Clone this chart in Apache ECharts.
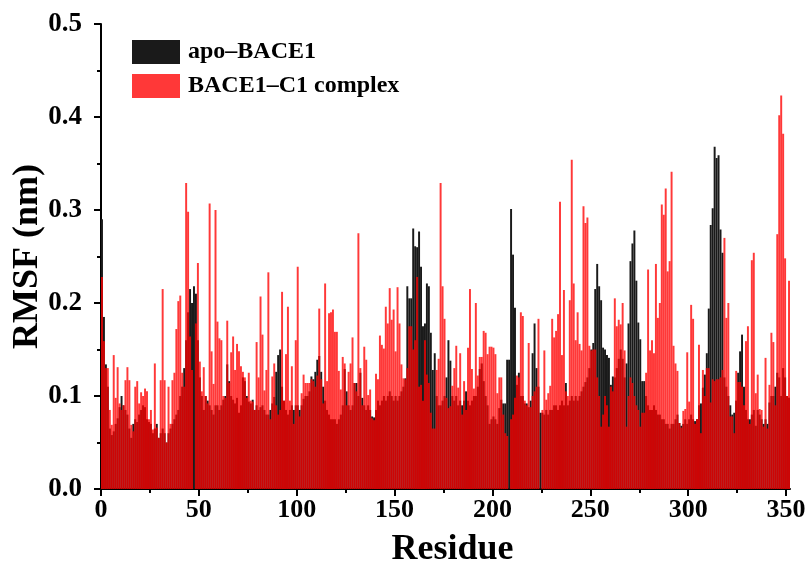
<!DOCTYPE html>
<html>
<head>
<meta charset="utf-8">
<script src="https://cdn.jsdelivr.net/npm/echarts@6/dist/echarts.min.js"></script>
<style>html,body{margin:0;padding:0;background:#fff}#c{width:808px;height:561px}</style>
</head>
<body>
<div id="c"></div>
<script>
// Residue numbers (0..351)
const residues = [];
for (let i = 0; i < 352; i++) residues.push(i);

// RMSF (nm) of apo-BACE1
const apo = [
0.290,0.185,0.134,0.110,0.065,0.058,0.062,0.070,0.076,0.088,
0.100,0.090,0.085,0.080,0.065,0.055,0.070,0.075,0.072,0.080,
0.085,0.090,0.088,0.075,0.072,0.070,0.060,0.065,0.070,0.055,
0.060,0.065,0.060,0.050,0.060,0.065,0.070,0.075,0.080,0.085,
0.100,0.110,0.130,0.160,0.190,0.215,0.200,0.218,0.210,0.160,
0.120,0.100,0.085,0.100,0.095,0.090,0.085,0.080,0.090,0.090,
0.085,0.090,0.096,0.100,0.134,0.116,0.100,0.096,0.092,0.098,
0.082,0.090,0.120,0.116,0.100,0.094,0.092,0.096,0.085,0.090,
0.085,0.088,0.090,0.085,0.080,0.080,0.085,0.092,0.099,0.126,
0.144,0.150,0.110,0.095,0.085,0.080,0.085,0.090,0.085,0.090,
0.090,0.085,0.090,0.097,0.100,0.100,0.105,0.121,0.118,0.126,
0.139,0.143,0.126,0.110,0.095,0.085,0.080,0.075,0.075,0.075,
0.070,0.075,0.080,0.090,0.129,0.105,0.090,0.085,0.090,0.114,
0.114,0.100,0.125,0.098,0.090,0.085,0.090,0.085,0.078,0.077,
0.085,0.095,0.090,0.095,0.100,0.095,0.100,0.105,0.100,0.095,
0.100,0.095,0.100,0.105,0.110,0.119,0.218,0.205,0.205,0.280,
0.261,0.260,0.277,0.239,0.175,0.178,0.221,0.218,0.168,0.128,
0.146,0.100,0.090,0.090,0.095,0.100,0.120,0.160,0.138,0.100,
0.095,0.100,0.090,0.095,0.090,0.095,0.105,0.095,0.090,0.095,
0.100,0.100,0.110,0.129,0.135,0.116,0.100,0.090,0.070,0.075,
0.078,0.075,0.070,0.087,0.096,0.092,0.092,0.139,0.139,0.301,
0.252,0.195,0.112,0.125,0.100,0.100,0.092,0.092,0.088,0.095,
0.146,0.178,0.130,0.110,0.082,0.082,0.080,0.085,0.080,0.085,
0.085,0.090,0.090,0.085,0.090,0.095,0.090,0.114,0.090,0.095,
0.100,0.095,0.100,0.095,0.100,0.105,0.110,0.115,0.120,0.130,
0.150,0.157,0.215,0.242,0.218,0.203,0.152,0.150,0.144,0.141,
0.112,0.121,0.120,0.130,0.140,0.150,0.140,0.120,0.135,0.178,
0.245,0.264,0.278,0.224,0.179,0.161,0.116,0.116,0.100,0.090,
0.085,0.085,0.090,0.085,0.080,0.080,0.075,0.075,0.070,0.070,
0.065,0.070,0.070,0.075,0.080,0.071,0.068,0.070,0.075,0.070,
0.075,0.080,0.075,0.073,0.075,0.090,0.092,0.109,0.123,0.146,
0.194,0.284,0.302,0.368,0.356,0.359,0.279,0.254,0.120,0.110,
0.100,0.090,0.080,0.082,0.095,0.125,0.148,0.166,0.110,0.085,
0.075,0.075,0.080,0.085,0.068,0.085,0.080,0.075,0.070,0.075,
0.070,0.093,0.100,0.100,0.110,0.125,0.120,0.100,0.130,0.120,
0.100,0.098
];

// RMSF (nm) of BACE1-C1 complex
const complex = [
0.228,0.159,0.130,0.130,0.085,0.069,0.144,0.098,0.131,0.092,
0.085,0.090,0.117,0.131,0.117,0.069,0.062,0.110,0.116,0.092,
0.104,0.100,0.108,0.105,0.075,0.085,0.064,0.135,0.066,0.055,
0.117,0.215,0.117,0.050,0.110,0.070,0.117,0.125,0.172,0.202,
0.208,0.125,0.110,0.329,0.298,0.164,0.128,0.000,0.178,0.243,
0.137,0.105,0.131,0.100,0.092,0.307,0.148,0.113,0.300,0.180,
0.162,0.160,0.100,0.098,0.181,0.114,0.147,0.164,0.128,0.156,
0.148,0.132,0.126,0.120,0.098,0.125,0.095,0.094,0.085,0.158,
0.120,0.207,0.166,0.106,0.128,0.233,0.075,0.121,0.135,0.090,
0.080,0.085,0.212,0.095,0.145,0.196,0.095,0.132,0.070,0.160,
0.239,0.078,0.103,0.123,0.114,0.114,0.114,0.118,0.116,0.110,
0.122,0.194,0.118,0.092,0.221,0.116,0.189,0.190,0.193,0.169,
0.169,0.127,0.107,0.142,0.135,0.090,0.126,0.135,0.163,0.114,
0.105,0.275,0.130,0.090,0.153,0.139,0.101,0.107,0.076,0.074,
0.124,0.118,0.165,0.155,0.151,0.196,0.178,0.216,0.182,0.193,
0.148,0.217,0.178,0.134,0.119,0.118,0.130,0.175,0.175,0.150,
0.160,0.228,0.110,0.112,0.095,0.160,0.123,0.114,0.082,0.065,
0.065,0.128,0.140,0.329,0.218,0.183,0.098,0.087,0.089,0.111,
0.130,0.154,0.109,0.146,0.080,0.116,0.085,0.152,0.215,0.129,
0.108,0.200,0.122,0.142,0.142,0.170,0.168,0.145,0.153,0.153,
0.152,0.145,0.103,0.120,0.120,0.080,0.060,0.057,0.000,0.075,
0.080,0.098,0.122,0.120,0.190,0.186,0.095,0.090,0.157,0.088,
0.100,0.105,0.110,0.183,0.000,0.085,0.149,0.096,0.103,0.111,
0.183,0.163,0.170,0.188,0.309,0.144,0.214,0.105,0.100,0.203,
0.354,0.221,0.160,0.190,0.156,0.149,0.304,0.286,0.292,0.154,
0.149,0.150,0.150,0.120,0.100,0.067,0.080,0.100,0.090,0.067,
0.110,0.105,0.205,0.175,0.182,0.177,0.200,0.149,0.067,0.100,
0.120,0.114,0.100,0.090,0.085,0.067,0.082,0.082,0.125,0.236,
0.149,0.160,0.146,0.242,0.184,0.200,0.306,0.295,0.323,0.234,
0.245,0.341,0.154,0.135,0.127,0.071,0.066,0.084,0.086,0.147,
0.094,0.198,0.183,0.070,0.075,0.155,0.060,0.128,0.100,0.130,
0.130,0.093,0.118,0.116,0.118,0.118,0.120,0.128,0.270,0.184,
0.200,0.078,0.078,0.060,0.127,0.115,0.115,0.110,0.090,0.159,
0.175,0.070,0.246,0.254,0.103,0.123,0.086,0.085,0.067,0.141,
0.065,0.112,0.168,0.158,0.090,0.274,0.402,0.423,0.382,0.248,
0.100,0.224
];

const seriesNames = ['apo\u2013BACE1', 'BACE1\u2013C1 complex'];
const xMajorTicks = [0, 50, 100, 150, 200, 250, 300, 350];
const xMinorTicks = [25, 75, 125, 175, 225, 275, 325];
const yTickLabels = ['0.0', '0.1', '0.2', '0.3', '0.4', '0.5'];

const FONT = '"Liberation Serif", "Times New Roman", serif';
const chart = echarts.init(document.getElementById('c'), null, {renderer: 'canvas'});

const toPairs = arr => arr.map((v, i) => [residues[i] + 0.5, v]);

chart.setOption({
  animation: false,
  backgroundColor: '#fff',
  grid: {left: 101, top: 24, width: 689, height: 465, containLabel: false, outerBoundsMode: 'none'},
  legend: {
    orient: 'vertical', left: 132, top: 40, padding: 0,
    itemWidth: 48, itemHeight: 24, itemGap: 10,
    icon: 'rect',
    data: seriesNames,
    textStyle: {fontFamily: FONT, fontWeight: 'bold', fontSize: 24, color: '#000', padding: [0, 0, 0, 3]}
  },
  xAxis: [{
    type: 'value', min: 0, max: 352,
    name: 'Residue', nameLocation: 'middle', nameGap: 43, nameMoveOverlap: false,
    nameTextStyle: {fontFamily: FONT, fontWeight: 'bold', fontSize: 36, color: '#000', padding: [0, 0, 0, 14]},
    axisLine: {show: true, onZero: false, lineStyle: {color: '#000', width: 2}},
    axisTick: {show: true, inside: false, length: 7, lineStyle: {color: '#000', width: 2}, customValues: xMajorTicks},
    axisLabel: {show: true, margin: 8, fontFamily: FONT, fontWeight: 'bold', fontSize: 26, color: '#000', customValues: xMajorTicks},
    splitLine: {show: false}
  }, {
    type: 'value', min: 0, max: 352, position: 'bottom',
    axisLine: {show: false},
    axisTick: {show: true, inside: false, length: 4, lineStyle: {color: '#000', width: 2}, customValues: xMinorTicks},
    axisLabel: {show: false},
    splitLine: {show: false}
  }],
  yAxis: {
    type: 'value', min: 0, max: 0.5, interval: 0.1,
    name: 'RMSF (nm)', nameLocation: 'middle', nameGap: 55, nameMoveOverlap: false,
    nameTextStyle: {fontFamily: FONT, fontWeight: 'bold', fontSize: 36, color: '#000'},
    axisLine: {show: true, lineStyle: {color: '#000', width: 2}},
    axisTick: {show: true, inside: false, length: 7, lineStyle: {color: '#000', width: 2}},
    minorTick: {show: true, splitNumber: 2, length: 4, lineStyle: {color: '#000', width: 2}},
    axisLabel: {margin: 19, fontFamily: FONT, fontWeight: 'bold', fontSize: 27, color: '#000',
      formatter: v => yTickLabels[Math.round(v * 10)]},
    splitLine: {show: false}
  },
  series: [{
    name: seriesNames[0], type: 'bar', xAxisIndex: 0,
    data: toPairs(apo),
    barWidth: '100%', barGap: '-100%',
    itemStyle: {color: '#1a1a1a'},
    emphasis: {disabled: true}
  }, {
    name: seriesNames[1], type: 'bar', xAxisIndex: 0,
    data: toPairs(complex),
    barWidth: '100%', barGap: '-100%',
    itemStyle: {color: '#ff0000', opacity: 0.78},
    emphasis: {disabled: true}
  }]
});
</script>
</body>
</html>
